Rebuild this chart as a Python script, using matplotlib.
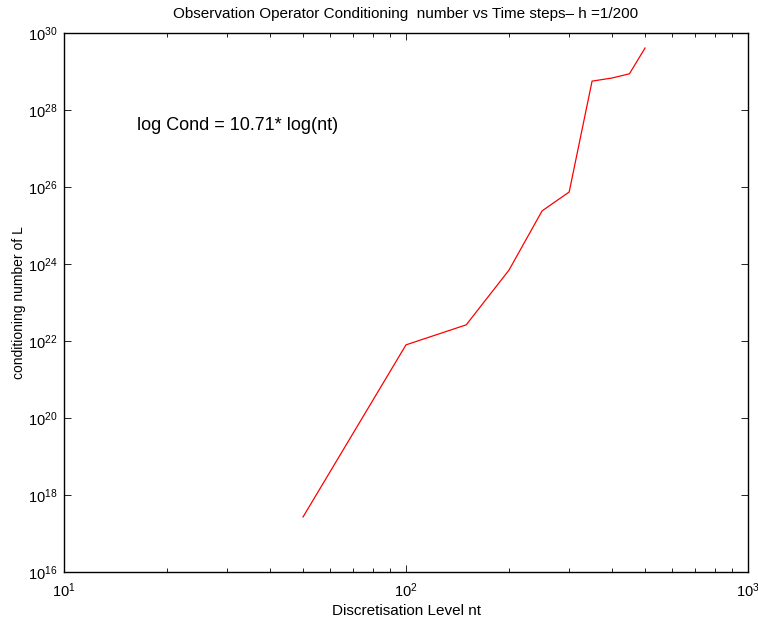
import numpy as np
import matplotlib
matplotlib.use("Agg")
import matplotlib.pyplot as plt
from matplotlib.ticker import LogLocator, NullLocator

plt.rcParams['font.family'] = ['Liberation Sans', 'DejaVu Sans']
plt.rcParams['mathtext.fontset'] = 'custom'
plt.rcParams['mathtext.rm'] = 'Liberation Sans'
plt.rcParams['mathtext.it'] = 'Liberation Sans:italic'
plt.rcParams['mathtext.default'] = 'regular'

# time steps nt and log10 of the conditioning number
nt = [50, 100, 150, 200, 250, 300, 350, 400, 450, 500]
log_cond = [17.43, 21.90, 22.42, 23.84, 25.38, 25.87, 28.75, 28.83, 28.94, 29.61]
cond = [10.0 ** v for v in log_cond]

title = "Observation Operator Conditioning  number vs Time steps\u2013 h =1/200"
note = "log Cond = 10.71* log(nt)"

fig = plt.figure(figsize=(7.58, 6.19), dpi=100)
ax = fig.add_axes([64 / 758, 47 / 619, 684 / 758, 539 / 619])

ax.loglog(nt, cond, color='red', linewidth=0.9)

ax.set_xlim(10, 1000)
ax.set_ylim(1e16, 1e30)
ax.set_yticks([10.0 ** k for k in range(16, 31, 2)])
ax.yaxis.set_minor_locator(NullLocator())
ax.xaxis.set_minor_locator(LogLocator(base=10, subs=np.arange(2, 10)))

ax.tick_params(which='both', direction='in', top=True, right=True,
               labelsize=10.5, width=0.6)
ax.tick_params(which='major', length=5)
ax.tick_params(which='minor', length=3)
ax.tick_params(axis='x', pad=7)
ax.tick_params(axis='y', pad=5)
for s in ax.spines.values():
    s.set_linewidth(1.0)

ax.set_title(title, fontsize=11, pad=11)
ax.set_xlabel("Discretisation Level nt", fontsize=11, labelpad=3)
ax.set_ylabel("conditioning number of L", fontsize=10, labelpad=1)

ax.text(16.4, 10 ** 27.6, note, fontsize=13, va='center', ha='left')

fig.savefig("out.png", dpi=100)
